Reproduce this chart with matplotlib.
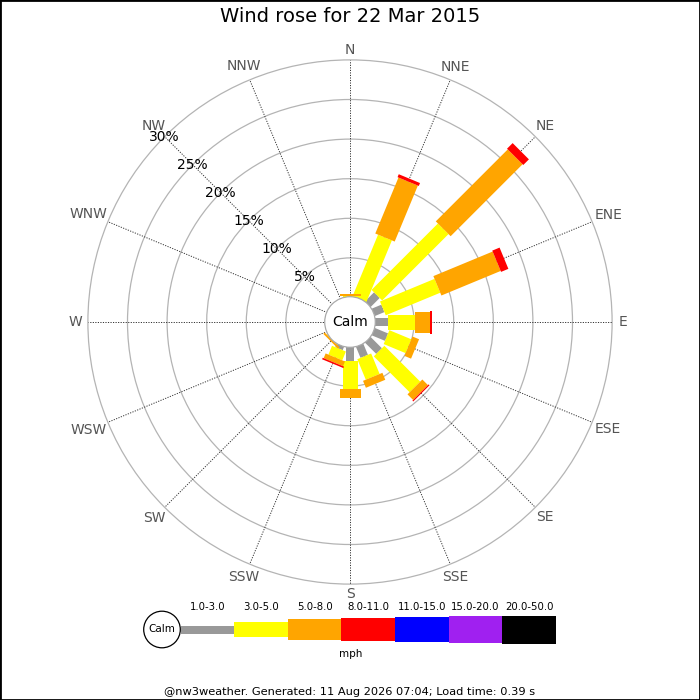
import numpy as np
import matplotlib
matplotlib.use("Agg")
import matplotlib.pyplot as plt
from matplotlib.patches import Polygon, Circle, Rectangle

# ---------------- data ----------------
directions = ['N', 'NNE', 'NE', 'ENE', 'E', 'ESE', 'SE', 'SSE',
              'S', 'SSW', 'SW', 'WSW', 'W', 'WNW', 'NW', 'NNW']
speed_classes = ['1.0-3.0', '3.0-5.0', '5.0-8.0', '8.0-11.0',
                 '11.0-15.0', '15.0-20.0', '20.0-50.0']
# percentage of time per direction for each speed class
pct_1_3 = [0, 0, 1.7, 1.4, 1.75, 1.9, 2.1, 1.6, 1.8, 0.55, 0, 0, 0, 0, 0, 0]
pct_3_5 = [0.15, 8.45, 11.85, 7.45, 3.35, 3.0, 6.4, 2.8, 3.6, 1.2, 0.1, 0, 0, 0, 0, 0]
pct_5_8 = [0.3, 7.65, 12.85, 8.1, 1.9, 0.9, 1.0, 0.95, 1.15, 0.65, 0.25, 0, 0, 0, 0, 0]
pct_8_11 = [0, 0.4, 1.0, 1.0, 0.3, 0, 0.15, 0, 0, 0.2, 0, 0, 0, 0, 0, 0]
pct_11_15 = [0] * 16
pct_15_20 = [0] * 16
pct_20_50 = [0] * 16
ring_pcts = [5, 10, 15, 20, 25, 30]
title = 'Wind rose for 22 Mar 2015'
footer = '@nw3weather. Generated: 11 Aug 2026 07:04; Load time: 0.39 s'

# ---------------- style ----------------
colors = ['#999999', '#ffff00', '#ffa500', '#ff0000', '#0000ff', '#a020f0', '#000000']
widths_px = [8, 15, 21, 23, 25, 27, 28]
PX_PER_PCT = 7.92
BASE = 24.5 / PX_PER_PCT      # radius (in % units) of zero level = calm circle
CX, CY = 350, 322             # rose centre in pixels
W = H = 700

series = [pct_1_3, pct_3_5, pct_5_8, pct_8_11, pct_11_15, pct_15_20, pct_20_50]

fig = plt.figure(figsize=(7, 7), dpi=100)
ax = fig.add_axes([0, 0, 1, 1])
ax.set_xlim(-CX / PX_PER_PCT, (W - CX) / PX_PER_PCT)
ax.set_ylim(-(H - CY) / PX_PER_PCT, CY / PX_PER_PCT)
ax.set_aspect('equal')
ax.axis('off')

outer = BASE + ring_pcts[-1]
# rings
for p in ring_pcts:
    ax.add_patch(Circle((0, 0), BASE + p, fill=False, ec='#b4b4b4', lw=0.9, zorder=1))

renderer = fig.canvas.get_renderer()
# spokes and direction labels
for i, d in enumerate(directions):
    th = np.deg2rad(i * 22.5)
    ux, uy = np.sin(th), np.cos(th)
    ax.plot([ux * BASE, ux * outer], [uy * BASE, uy * outer], color='#333333',
            lw=0.7, ls=(0, (1.2, 1.4)), zorder=2)
    t = ax.text(0, 0, d, ha='center', va='center', fontsize=10,
                color='#555555', zorder=5)
    bb = t.get_window_extent(renderer)
    r_px = 270 + 0.7 * abs(ux) * bb.width / 2 + 0.5 * abs(uy) * 5
    rl = r_px / PX_PER_PCT
    t.set_position((ux * rl, uy * rl))

# bars
for i in range(len(directions)):
    th = np.deg2rad(i * 22.5)
    u = np.array([np.sin(th), np.cos(th)])
    v = np.array([np.cos(th), -np.sin(th)])
    cum = 0.0
    for k, vals in enumerate(series):
        val = vals[i]
        if val <= 0:
            continue
        r0, r1 = BASE + cum, BASE + cum + val
        hw = widths_px[k] / PX_PER_PCT / 2
        pts = [u * r0 - v * hw, u * r1 - v * hw, u * r1 + v * hw, u * r0 + v * hw]
        ax.add_patch(Polygon(pts, closed=True, fc=colors[k], ec='none', zorder=3 + k * 0.01))
        cum += val

# calm circle
ax.add_patch(Circle((0, 0), BASE + 0.1, fc='white', ec='#aaaaaa', lw=0.9, zorder=4))
ax.text(0, 0, 'Calm', ha='center', va='center', fontsize=10, color='black', zorder=5)

# ring labels along NW
th = np.deg2rad(315)
for p in ring_pcts:
    r = BASE + p
    ax.text(np.sin(th) * r, np.cos(th) * r, f'{p}%', ha='center', va='center',
            fontsize=10, color='black', zorder=5)

# ---------------- legend (pixel coordinates) ----------------
lax = fig.add_axes([0, 0, 1, 1], facecolor='none')
lax.set_xlim(0, W)
lax.set_ylim(H, 0)
lax.axis('off')
ly = 629.5
lax.add_patch(Circle((162, ly), 18.3, fc='white', ec='black', lw=0.9))
lax.text(162, ly, 'Calm', ha='center', va='center', fontsize=7.5)
x0, step = 180.5, 53.65
for k, lab in enumerate(speed_classes):
    xs = x0 + k * step
    lax.add_patch(Rectangle((xs, ly - widths_px[k] / 2), step, widths_px[k],
                            fc=colors[k], ec='none'))
    lax.text(xs + step / 2, 607, lab, ha='center', va='center', fontsize=7.3)
lax.text(351, 654, 'mph', ha='center', va='center', fontsize=7.5)
lax.text(350, 17, title, ha='center', va='center', fontsize=14)
lax.text(350, 692, footer, ha='center', va='center', fontsize=8.2)

fig.patches.append(Rectangle((0, 0), 1, 1, transform=fig.transFigure, fill=False,
                             ec='black', lw=2))

fig.savefig('out.png', dpi=100)
